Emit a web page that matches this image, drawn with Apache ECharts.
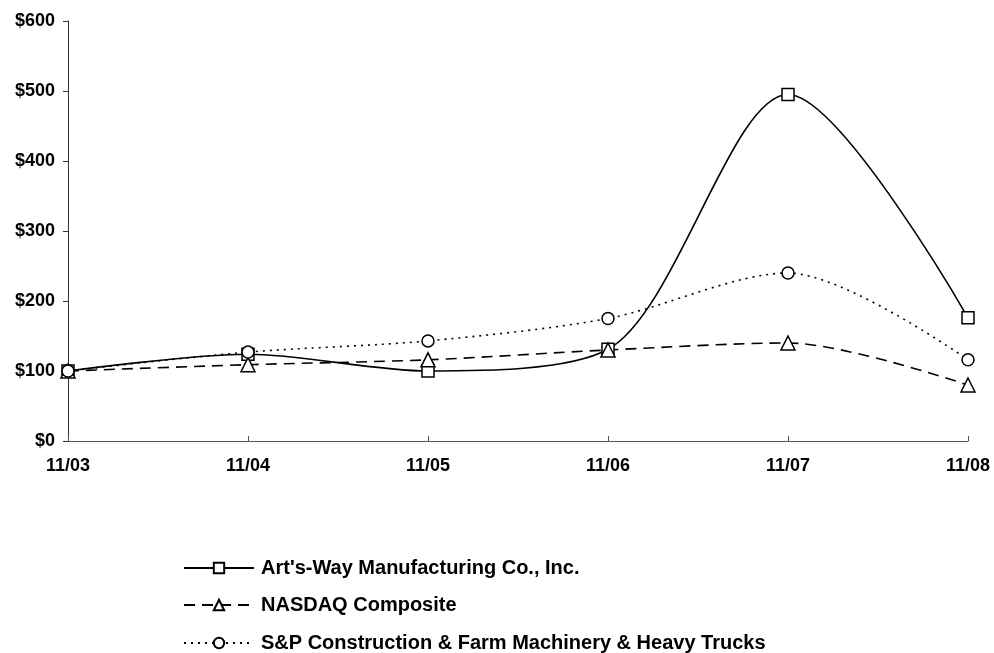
<!DOCTYPE html>
<html><head><meta charset="utf-8">
<script src="https://cdn.jsdelivr.net/npm/echarts@6/dist/echarts.min.js"></script>
<style>html,body{margin:0;padding:0;background:#fff}#c{width:994px;height:653px}</style>
</head><body><div id="c"></div>
<script>
var categories = ['11/03','11/04','11/05','11/06','11/07','11/08'];
var seriesNames = ["Art's-Way Manufacturing Co., Inc.", 'NASDAQ Composite', 'S&P Construction & Farm Machinery & Heavy Trucks'];
var artsWay = [100, 124, 100, 131, 495, 176];
var nasdaq = [100, 109, 116, 130, 140, 80];
var spMachinery = [100, 127, 143, 175, 240, 116];
var yTicks = [0, 100, 200, 300, 400, 500, 600];

var font = 'Liberation Sans, Arial, sans-serif';
function mk(name, data, symbol, size, lineType) {
  return {
    name: name, type: 'line', data: data, smooth: 0.3,
    symbol: symbol, symbolSize: size, showSymbol: true,
    lineStyle: {color: '#000', width: 1.6, type: lineType},
    itemStyle: {color: '#fff', borderColor: '#000', borderWidth: 1.5},
    emphasis: {disabled: true}, z: 3
  };
}
function lg(i, top) {
  return {
    orient: 'vertical', left: 183, top: top, padding: 0,
    itemWidth: 70, itemHeight: 13, itemGap: 0, selectedMode: false,
    textStyle: {color: '#000', fontFamily: font, fontWeight: 'bold', fontSize: 20, padding: [0, 0, 0, 2]},
    data: [seriesNames[i]]
  };
}
var chart = echarts.init(document.getElementById('c'), null, {renderer: 'canvas'});
chart.setOption({
  animation: false,
  backgroundColor: '#fff',
  grid: {left: 68, right: 26, top: 21, bottom: 212, containLabel: false},
  xAxis: {
    type: 'category', data: categories, boundaryGap: false,
    axisLine: {lineStyle: {color: '#555', width: 1}},
    axisTick: {show: true, inside: true, length: 5, alignWithLabel: true, lineStyle: {color: '#555'}},
    axisLabel: {color: '#000', fontFamily: font, fontWeight: 'bold', fontSize: 18, margin: 16},
    splitLine: {show: false}
  },
  yAxis: {
    type: 'value', min: yTicks[0], max: yTicks[yTicks.length - 1], interval: 100,
    axisLine: {show: true, lineStyle: {color: '#333', width: 1}},
    axisTick: {show: true, inside: false, length: 5, lineStyle: {color: '#333'}},
    axisLabel: {color: '#000', fontFamily: font, fontWeight: 'bold', fontSize: 18, margin: 13,
      formatter: function (v) { return '$' + v; }},
    splitLine: {show: false}
  },
  legend: [lg(0, 558), lg(1, 595), lg(2, 633)],
  series: [
    mk(seriesNames[0], artsWay, 'rect', 12, 'solid'),
    mk(seriesNames[1], nasdaq, 'triangle', 14, [11, 7]),
    mk(seriesNames[2], spMachinery, 'circle', 12, [2, 5])
  ]
});
</script></body></html>
